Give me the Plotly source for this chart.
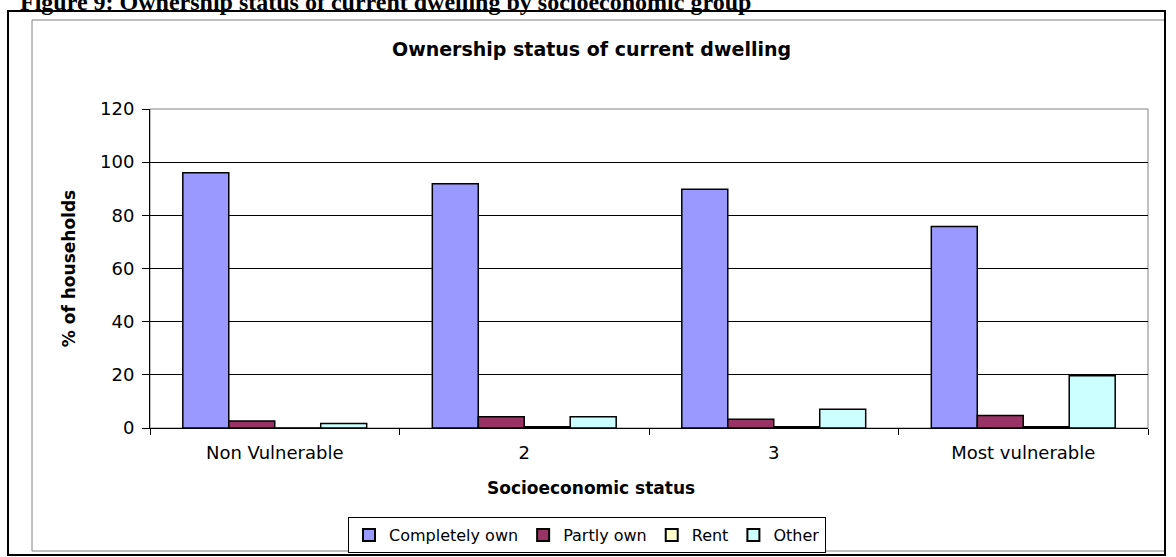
import plotly.graph_objects as go

# Socioeconomic groups and the share of households (%) by ownership status
categories = ["Non Vulnerable", "2", "3", "Most vulnerable"]
completely_own = [96.0, 91.9, 89.8, 75.8]
partly_own = [2.6, 4.2, 3.3, 4.7]
rent = [0.0, 0.5, 0.5, 0.5]
other = [1.7, 4.2, 7.1, 19.7]

y_ticks = [0, 20, 40, 60, 80, 100, 120]

series = [
    ("Completely own", completely_own, "#9999FF"),
    ("Partly own", partly_own, "#993366"),
    ("Rent", rent, "#FFFFCC"),
    ("Other", other, "#CCFFFF"),
]

W, H = 1176, 557
L, R, T, B = 150, 28, 109, 129
PW, PH = W - L - R, H - T - B
FONT = "DejaVu Sans"


def px(x):
    return (x - L) / PW


def py(y):
    return (H - B - y) / PH


fig = go.Figure()
for name, vals, color in series:
    fig.add_trace(go.Bar(
        name=name, x=categories, y=vals,
        marker=dict(color=color, line=dict(color="#000000", width=1.5)),
    ))

shapes = [
    # chart area frame
    dict(type="rect", xref="paper", yref="paper",
         x0=px(32), x1=px(1165), y0=py(551), y1=py(20),
         line=dict(color="#808080", width=1), layer="below"),
    # outer page frame
    dict(type="rect", xref="paper", yref="paper",
         x0=px(8), x1=px(1165), y0=py(555), y1=py(11),
         line=dict(color="#000000", width=2), layer="above"),
    # plot area border
    dict(type="rect", xref="paper", yref="paper",
         x0=0, x1=1, y0=0, y1=1,
         line=dict(color="#808080", width=1), layer="below"),
]

fig.update_layout(
    width=W, height=H,
    margin=dict(l=L, r=R, t=T, b=B, pad=0, autoexpand=False),
    paper_bgcolor="white", plot_bgcolor="white",
    barmode="group", bargap=0.263, bargroupgap=0,
    font=dict(family=FONT, size=16, color="#000000"),
    shapes=shapes,
    showlegend=True,
    legend=dict(
        orientation="h", x=px(587), xanchor="center", y=py(535), yanchor="middle",
        bordercolor="#000000", borderwidth=1, bgcolor="white",
        font=dict(family=FONT, size=16), traceorder="normal",
        itemwidth=30, itemsizing="constant", tracegroupgap=0,
    ),
    annotations=[
        dict(text="<b>Ownership status of current dwelling</b>", xref="paper", yref="paper",
             x=px(591), y=py(49), xanchor="center", yanchor="middle", showarrow=False,
             font=dict(family=FONT, size=19)),
        dict(text="<b>Socioeconomic status</b>", xref="paper", yref="paper",
             x=px(591), y=py(488), xanchor="center", yanchor="middle", showarrow=False,
             font=dict(family=FONT, size=17)),
        dict(text="<b>Figure 9: Ownership status of current dwelling by socioeconomic group</b>",
             xref="paper", yref="paper", x=px(18), y=py(2), xanchor="left", yanchor="middle",
             showarrow=False, font=dict(family="Liberation Serif", size=24)),
    ],
    xaxis=dict(
        automargin=False,
        showline=True, linecolor="#000000", linewidth=1,
        ticks="outside", ticklen=6, tickcolor="#000000", tickson="boundaries",
        tickfont=dict(family=FONT, size=18), ticklabelstandoff=8, showgrid=False,
    ),
    yaxis=dict(
        automargin=False,
        title=dict(text="<b>% of households</b>", font=dict(family=FONT, size=17), standoff=20),
        range=[0, 120], tickvals=y_ticks, showline=True, linecolor="#000000", linewidth=1,
        ticks="outside", ticklen=7, tickcolor="#000000",
        showgrid=True, gridcolor="#000000", gridwidth=1,
        tickfont=dict(family=FONT, size=18), ticklabelstandoff=4, zeroline=False,
    ),
)

fig.write_html("out.html")
